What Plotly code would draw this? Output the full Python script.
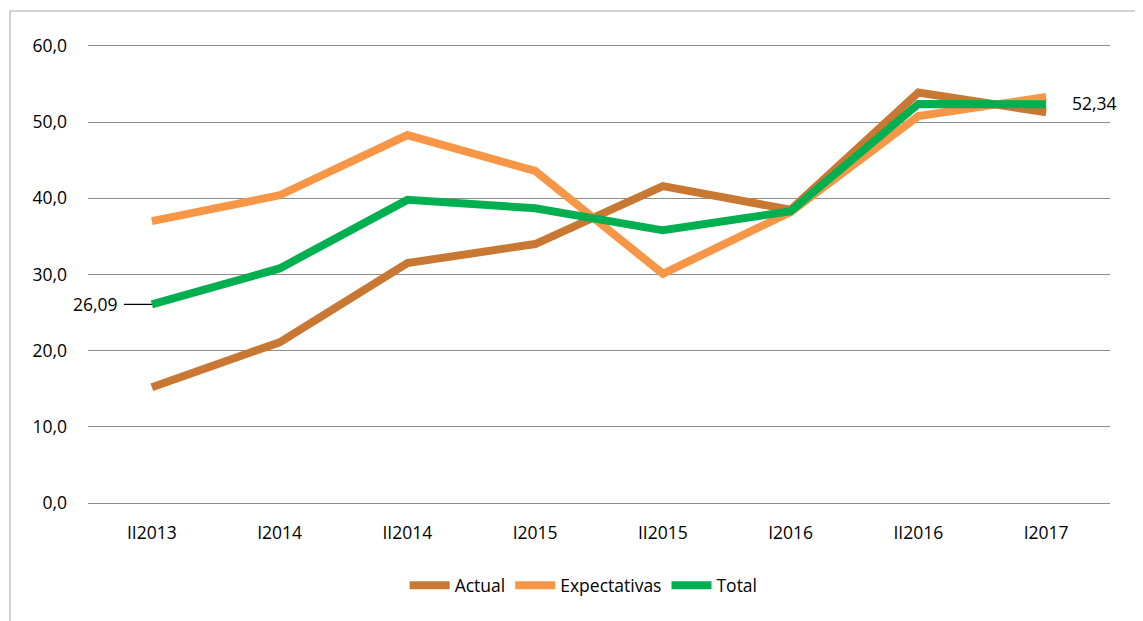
import plotly.graph_objects as go

categories = ["II2013", "I2014", "II2014", "I2015", "II2015", "I2016", "II2016", "I2017"]
actual = [15.2, 21.1, 31.5, 34.0, 41.6, 38.5, 53.9, 51.3]
expectativas = [37.0, 40.4, 48.3, 43.6, 30.1, 38.2, 50.8, 53.3]
total = [26.09, 30.8, 39.8, 38.7, 35.8, 38.3, 52.4, 52.34]
y_ticks = [0, 10, 20, 30, 40, 50, 60]
y_tick_labels = ["0,0", "10,0", "20,0", "30,0", "40,0", "50,0", "60,0"]

FONT = "Open Sans"
FS = 17.5
GRID = "#8C8C8C"
fig = go.Figure()
fig.add_trace(go.Scatter(x=categories, y=actual, name="Actual", mode="lines",
                         line=dict(color="#C97833", width=8)))
fig.add_trace(go.Scatter(x=categories, y=expectativas, name="Expectativas", mode="lines",
                         line=dict(color="#F79646", width=8)))
fig.add_trace(go.Scatter(x=categories, y=total, name="Total", mode="lines",
                         line=dict(color="#00B050", width=8)))

fig.add_annotation(x=categories[0], y=total[0], text="26,09", showarrow=True,
                   arrowhead=0, arrowwidth=1.2, arrowcolor="#000", ax=-56, ay=0,
                   standoff=0, borderpad=5, font=dict(family=FONT, size=FS, color="#000"))
fig.add_annotation(x=categories[-1], y=total[-1], text="52,34", showarrow=False,
                   xanchor="left", xshift=24, yshift=1,
                   font=dict(family=FONT, size=FS, color="#000"))

fig.add_shape(type="rect", xref="paper", yref="paper",
              x0=-0.0763, x1=1.0264, y0=-0.30, y1=1.0766,
              line=dict(color="#A6A6A6", width=1), fillcolor="rgba(0,0,0,0)", layer="below")

fig.update_layout(
    width=1143, height=621,
    margin=dict(l=80, r=41, t=38, b=126),
    paper_bgcolor="white", plot_bgcolor="white",
    font=dict(family=FONT, size=FS, color="#000"),
    showlegend=True,
    legend=dict(orientation="h", x=0.485, y=-0.18, xanchor="center", yanchor="middle",
                font=dict(family=FONT, size=FS, color="#000"), itemwidth=40,
                tracegroupgap=0),
    xaxis=dict(type="category", showgrid=False, showline=True, mirror=True,
               linecolor=GRID, linewidth=1, zeroline=False,
               ticks="", ticklabelstandoff=14, range=[-0.5, 7.5]),
    yaxis=dict(range=[0, 60], tickvals=y_ticks, ticktext=y_tick_labels,
               showgrid=True, gridcolor=GRID, gridwidth=1, zeroline=False,
               showline=False, ticks="", ticklabelstandoff=20),
)
fig.write_html("out.html")
